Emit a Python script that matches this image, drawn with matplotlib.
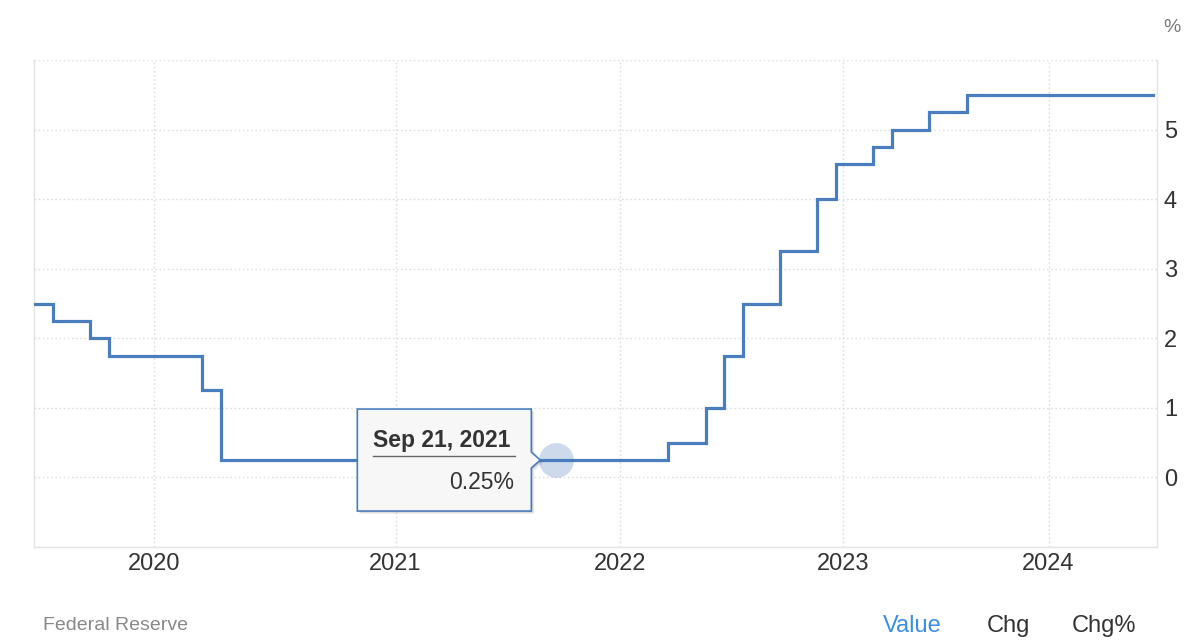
import datetime as dt
import numpy as np
import matplotlib
matplotlib.use("Agg")
import matplotlib.pyplot as plt
import matplotlib.dates as mdates
import matplotlib.transforms as mtransforms
from matplotlib.patches import Polygon
from matplotlib.lines import Line2D

# ---------------- data (ordinal series: one observation per point) ----------------
obs_dates = [
    "2019-06-19", "2019-07-31", "2019-08-31", "2019-09-18", "2019-10-30", "2019-11-30",
    "2019-12-11", "2020-01-29", "2020-02-29", "2020-03-03", "2020-03-15", "2020-04-29",
    "2020-05-31", "2020-06-10", "2020-07-29", "2020-08-31", "2020-09-16", "2020-10-31",
    "2020-11-05", "2020-12-16", "2021-01-27", "2021-02-28", "2021-03-17", "2021-04-28",
    "2021-05-31", "2021-06-16", "2021-07-28", "2021-08-31", "2021-09-21", "2021-10-31",
    "2021-11-03", "2021-12-15", "2022-01-26", "2022-02-28", "2022-03-16", "2022-04-30",
    "2022-05-04", "2022-06-15", "2022-07-27", "2022-08-31", "2022-09-21", "2022-10-31",
    "2022-11-02", "2022-12-14", "2023-01-31", "2023-02-01", "2023-03-22", "2023-04-30",
    "2023-05-03", "2023-06-14", "2023-07-26", "2023-08-31", "2023-09-20", "2023-11-01",
    "2023-12-13", "2024-01-31", "2024-02-29", "2024-03-20", "2024-04-30", "2024-05-01",
    "2024-06-12",
]
rate = [
    2.50, 2.25, 2.25, 2.00, 1.75, 1.75,
    1.75, 1.75, 1.75, 1.25, 0.25, 0.25,
    0.25, 0.25, 0.25, 0.25, 0.25, 0.25,
    0.25, 0.25, 0.25, 0.25, 0.25, 0.25,
    0.25, 0.25, 0.25, 0.25, 0.25, 0.25,
    0.25, 0.25, 0.25, 0.25, 0.50, 0.50,
    1.00, 1.75, 2.50, 2.50, 3.25, 3.25,
    4.00, 4.50, 4.50, 4.75, 5.00, 5.00,
    5.25, 5.25, 5.50, 5.50, 5.50, 5.50,
    5.50, 5.50, 5.50, 5.50, 5.50, 5.50,
    5.50,
]
year_ticks = [2020, 2021, 2022, 2023, 2024]
y_ticks = [-1, 0, 1, 2, 3, 4, 5, 6]
y_labels = ["", "0", "1", "2", "3", "4", "5", ""]
hover_date = "2021-09-21"
hover_value = 0.25
unit_label = "%"
source_label = "Federal Reserve"
tab_labels = ["Value", "Chg", "Chg%"]

# ---------------- style ----------------
plt.rcParams["font.family"] = ["Liberation Sans", "DejaVu Sans"]
LINE = "#4a7dbd"
GRID = "#dddddd"
TXT = "#333333"

W, H, DPI = 1200, 643, 100
fig = plt.figure(figsize=(W / DPI, H / DPI), dpi=DPI)
fig.patch.set_facecolor("white")
ax = fig.add_axes([34 / W, 1 - 547 / H, (1157 - 34) / W, (547 - 60) / H])

idx = np.arange(len(rate))
obs_num = mdates.datestr2num(obs_dates)


def ordinal(datestr):
    return float(np.interp(mdates.datestr2num(datestr), obs_num, idx))


ax.step(idx, rate, where="post", color=LINE, lw=2.3, zorder=3,
        solid_joinstyle="miter")

ax.set_xlim(0, 60.2)
ax.set_ylim(-1, 6)

xt = [ordinal(f"{y}-01-01") for y in year_ticks]
ax.set_xticks(xt)
ax.set_xticklabels([str(y) for y in year_ticks])
ax.set_yticks(y_ticks)
ax.set_yticklabels(y_labels)
ax.yaxis.tick_right()
ax.tick_params(axis="both", length=0, labelsize=17, colors=TXT)
ax.tick_params(axis="x", pad=4)
ax.tick_params(axis="y", pad=5)

ax.grid(True, color=GRID, linestyle=(0, (1.2, 1.8)), lw=1.0, zorder=0)
for s in ["left", "right", "bottom"]:
    ax.spines[s].set_color("#e3e3e3")
    ax.spines[s].set_linewidth(1.0)
ax.spines["top"].set_visible(False)

# ---------------- hover marker + tooltip ----------------
hx = ordinal(hover_date)
hy = hover_value
ax.plot([hx], [hy], marker="o", markersize=25, markerfacecolor=LINE,
        markeredgecolor="none", alpha=0.28, zorder=4, clip_on=False)

trans = mtransforms.Affine2D() + mtransforms.ScaledTranslation(hx, hy, ax.transData)
L, R, T, B = -199, -25, 51, -51
verts = [(L, B), (R, B), (R, -8), (-16, 0), (R, 8), (R, T), (L, T)]
for off, a in [((3, -3), 0.06), ((2, -2), 0.08), ((1, -1), 0.10)]:
    sh = Polygon([(x + off[0], y + off[1]) for x, y in verts], closed=True,
                 facecolor="black", edgecolor="none", alpha=a,
                 transform=trans, zorder=5, clip_on=False)
    ax.add_patch(sh)
tip = Polygon(verts, closed=True, facecolor="#f7f7f7", edgecolor=LINE,
              lw=1.2, transform=trans, zorder=6, clip_on=False)
ax.add_patch(tip)

d = dt.datetime.strptime(hover_date, "%Y-%m-%d")
ax.text(-183, 13, f"{d:%b} {d.day}, {d.year}", transform=trans, ha="left",
        va="baseline", fontsize=16.5, fontweight="bold", color=TXT, zorder=7,
        clip_on=False)
ax.add_line(Line2D([-183, -41], [4, 4], transform=trans, color="#666666",
                   lw=1.0, zorder=7, clip_on=False))
ax.text(-42, -29, f"{hover_value:.2f}%", transform=trans, ha="right",
        va="baseline", fontsize=16.5, color=TXT, zorder=7, clip_on=False)

# ---------------- surrounding texts ----------------
fig.text(1172 / W, 1 - 27 / H, unit_label, ha="center", va="center",
         fontsize=14, color="#777777")
fig.text(43 / W, 1 - 630 / H, source_label, ha="left", va="baseline",
         fontsize=14, color="#888888")
tab_x = [883, 987, 1072]
tab_c = ["#3b8ee6", TXT, TXT]
for lbl, x, c in zip(tab_labels, tab_x, tab_c):
    fig.text(x / W, 1 - 632 / H, lbl, ha="left", va="baseline",
             fontsize=17, color=c)

fig.savefig("out.png", dpi=DPI, facecolor="white")
